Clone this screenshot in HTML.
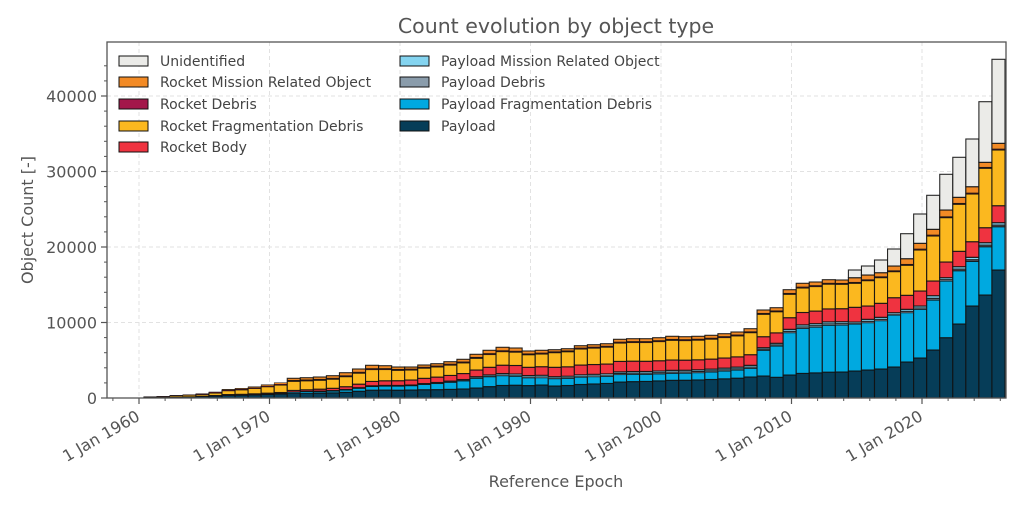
<!DOCTYPE html>
<html><head><meta charset="utf-8"><style>
html,body{margin:0;padding:0;background:#fff;}
svg{display:block;font-family:"DejaVu Sans","Liberation Sans",sans-serif;}
</style></head><body>
<svg id="s" width="1024" height="512" viewBox="0 0 1024 512" xmlns="http://www.w3.org/2000/svg">
<rect width="1024" height="512" fill="#fff"/>
<g id="grid" stroke="#e2e2e2" stroke-dasharray="4,3" stroke-width="1"></g>
<g id="bars"></g>
<g id="axes"></g>
<text x="556" y="33" text-anchor="middle" font-size="20.5" fill="#555">Count evolution by object type</text>
<text x="556" y="487" text-anchor="middle" font-size="16" fill="#555">Reference Epoch</text>
<text transform="translate(33,220) rotate(-90)" text-anchor="middle" font-size="16" fill="#555">Object Count [-]</text>
<g id="legend" font-size="14" fill="#444"></g>
</svg>
<script>
var NS="http://www.w3.org/2000/svg";
function el(p,t,a,txt){var e=document.createElementNS(NS,t);for(var k in a)e.setAttribute(k,a[k]);if(txt!=null)e.textContent=txt;document.getElementById(p).appendChild(e);return e;}
var L=107,R=1006,T=42,B=398;
var totals=[1.3,1.7,2.7,3.3,4.3,6,8.7,9.7,11.3,13.3,15.3,19.7,20.3,21,22.3,25.3,29,32.7,32.3,31,31,33,34.3,36.3,38.7,43.7,47.7,50.7,50,47,47.7,48.3,49.3,52.3,53.3,54.3,58.7,59.3,59.3,60.3,61.7,61.3,61.7,62.7,64.3,66,69.3,88,90.3,108.3,114.7,116,118.3,118,128,132,138,149,164.3,184,202.7,223.7,240.7,259,296.3,338.7];
var keys={0:[0.5,0.5,0.5,0.7,1,1.3,1.3],5:[2,2,2,2.5,5,6,6],10:[4,4.5,4.8,5.5,13,15.3,15.3],15:[5.7,8,8.5,11.3,21.3,25.3,25.3],20:[8,12.3,13,18,28,31,31],25:[10,19.7,21.3,28,39.7,43.7,43.7],30:[13,20.3,22.7,31.3,44,47.7,47.7],31:[12,19.3,21.3,30.7,45.3,48.3,48.3],40:[17.7,24.7,27.7,38,57.7,61.7,61.7],46:[21,29.7,32.7,43.3,65.3,69.3,69.3],47:[22,47.7,50.3,61.3,83.7,88,88],49:[23,65.3,68.7,80.3,103.7,108.3,108.3],53:[26,73,76.3,89.3,113.7,118,118],54:[27,74,76,90.7,114.7,120.3,128],55:[28,75.3,78.7,92,117.3,123,132],56:[29,77.3,80.7,94.7,120.3,125.3,138],57:[31,83,85.3,100.3,126.3,132,149],58:[36,85.3,88.7,102.7,132.7,139.3,164.3],59:[40,88.7,92,107,148,154.7,184],60:[48,98,102.3,117,162,168.7,202.7],61:[60.3,117,120.3,136,180.3,188,223.7],62:[74,127.3,131.3,146.7,193.7,200.7,240.7],63:[92,136.7,140.7,156.3,204,211.3,259],64:[103,151.3,155.3,170.3,229.7,235.7,296.3],65:[128,171.3,175.3,192.3,248,254.7,338.7]};
var kk=Object.keys(keys).map(Number).sort(function(a,b){return a-b;});
function comp(k){if(keys[k])return keys[k];var a,b;for(var i=0;i<kk.length-1;i++){if(kk[i]<k&&kk[i+1]>k){a=kk[i];b=kk[i+1];}}var t=(k-a)/(b-a);return keys[a].map(function(v,j){return v+(keys[b][j]-v)*t;});}
var C={pay:"#063d58",pfd:"#00a9e0",pd:"#8a9cab",pmro:"#84d4f0",rb:"#ef3340",rfd:"#fbb81f",rd:"#a3174a",rmro:"#f28a25",un:"#ebebe8"};
for(var k=0;k<66;k++){
 var c=comp(k),tot=totals[k],s=tot/c[6];c=c.map(function(v){return v*s;});
 var x=143.7+13.05*k,w=13.05;
 var pfdTop=c[1],pdTop=c[1]+(c[2]-c[1])*0.4;
 var rdTop=Math.min(c[4]+0.8,c[5]);
 var segs=[[0,c[0],C.pay],[c[0],pfdTop,C.pfd],[pfdTop,pdTop,C.pd],[pdTop,c[2],C.pmro],[c[2],c[3],C.rb],[c[3],c[4],C.rfd],[c[4],rdTop,C.rd],[rdTop,c[5],C.rmro],[c[5],c[6],C.un]];
 segs.forEach(function(sg){var h=sg[1]-sg[0];if(h<=0.05)return;el("bars","rect",{x:x.toFixed(2),y:(B-sg[1]).toFixed(2),width:w.toFixed(2),height:h.toFixed(2),fill:sg[2],stroke:"#111","stroke-width":h>1.5?1.1:0.5,"stroke-opacity":0.9});});
}
var yp=function(v){return B-v*75.5/10000;};
for(var v=0;v<=40000;v+=10000){var y=yp(v);if(v>0)el("grid","line",{x1:L,x2:R,y1:y,y2:y});
 el("axes","line",{x1:L-6,x2:L,y1:y,y2:y,stroke:"#555","stroke-width":1.2});
 el("axes","text",{x:L-10,y:y+6,"text-anchor":"end","font-size":16,fill:"#555"},String(v));}
for(var v=2000;v<46000;v+=2000){if(v%10000==0)continue;var y=yp(v);el("axes","line",{x1:L-3,x2:L,y1:y,y2:y,stroke:"#555"});}
var xp=function(yr){return 139+(yr-1960)*13.05;};
for(var yr=1960;yr<=2020;yr+=10){var x=xp(yr);el("grid","line",{x1:x,x2:x,y1:T,y2:B});
 el("axes","line",{x1:x,x2:x,y1:B,y2:B+6,stroke:"#555","stroke-width":1.2});
 el("axes","text",{transform:"translate("+(x-4)+","+(B+11)+") rotate(-30)","text-anchor":"end","font-size":16,fill:"#555",dy:"0.75em"},"1 Jan "+yr);}
for(var yr=1958;yr<=2026;yr+=2){if(yr%10==0)continue;var x=xp(yr);if(x<L||x>R)continue;el("axes","line",{x1:x,x2:x,y1:B,y2:B+3,stroke:"#555"});}
el("axes","rect",{x:L,y:T,width:R-L,height:B-T,fill:"none",stroke:"#555","stroke-width":1.3});
var leg=[[119,61,C.un,"Unidentified"],[119,82,C.rmro,"Rocket Mission Related Object"],[119,104,C.rd,"Rocket Debris"],[119,126,C.rfd,"Rocket Fragmentation Debris"],[119,147,C.rb,"Rocket Body"],[400,61,C.pmro,"Payload Mission Related Object"],[400,82,C.pd,"Payload Debris"],[400,104,C.pfd,"Payload Fragmentation Debris"],[400,126,C.pay,"Payload"]];
leg.forEach(function(l){el("legend","rect",{x:l[0],y:l[1]-5,width:29,height:10,fill:l[2],stroke:"#111","stroke-width":1});
 el("legend","text",{x:l[0]+41,y:l[1]+5},l[3]);});
</script>
</body></html>
